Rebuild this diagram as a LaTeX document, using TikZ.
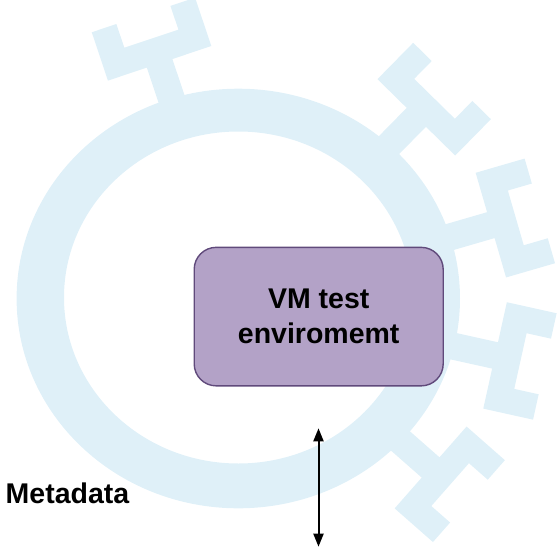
\documentclass[tikz,border=0pt]{standalone}
\usepackage{fontspec}
\setmainfont{Liberation Sans}
\usetikzlibrary{arrows.meta}

\definecolor{ringblue}{RGB}{223,240,248}
\definecolor{boxfill}{RGB}{179,162,199}
\definecolor{boxline}{RGB}{96,74,123}

% one Y-shaped receptor standing on the ring: #1 = direction, #2 = tip radius
\newcommand\receptor[2]{%
  \begin{scope}[shift={(ctr)}, rotate=#1]
    \fill[ringblue]
      (190,-13.5) -- ({#2-51},-13.5) -- ({#2-51},-54.5) -- (#2,-54.5)
      -- (#2,-28.5) -- ({#2-25},-28.5) -- ({#2-25},28.5) -- (#2,28.5)
      -- (#2,54.5) -- ({#2-51},54.5) -- ({#2-51},13.5) -- (190,13.5) -- cycle;
  \end{scope}}

\tikzset{
  vmbox/.style={draw=boxline, line width=1.4pt, fill=boxfill,
    rounded corners=22pt, minimum width=249pt, minimum height=138.5pt,
    inner sep=0pt, align=center,
    font=\fontsize{28.5}{34.7}\selectfont\bfseries},
  label/.style={inner sep=0pt, font=\fontsize{28.5}{34.7}\selectfont\bfseries},
  link/.style={line width=2pt, {Triangle[width=10pt,length=13pt]}-{Triangle[width=10pt,length=13pt]}}
}

\begin{document}
\begin{tikzpicture}[x=1pt,y=-1pt]
  \useasboundingbox (0,0) rectangle (558,547);
  \clip (0,0) rectangle (558,547);

  \coordinate (ctr) at (238.3,298.5);

  % the ring
  \fill[ringblue, even odd rule]
    (ctr) ellipse [x radius=221.7, y radius=209.8]
    (238.3,297.5) ellipse [x radius=174.3, y radius=166];

  % receptors on the ring
  \receptor{108.5}{299}
  \receptor{45.5}{305}
  \receptor{16.2}{314}
  \receptor{-12.5}{314}
  \receptor{-41.3}{307}

  % test environment
  \node[vmbox] (vm) at (318.7,316.6) {VM test\\enviromemt};

  % metadata label and exchange arrow
  \node[label, anchor=base west] (meta) at (5.5,503) {Metadata};
  \coordinate (atop) at (318.5,428.3);
  \coordinate (abot) at (318.5,546.7);
  \draw[link] (atop) -- (abot);
\end{tikzpicture}
\end{document}
